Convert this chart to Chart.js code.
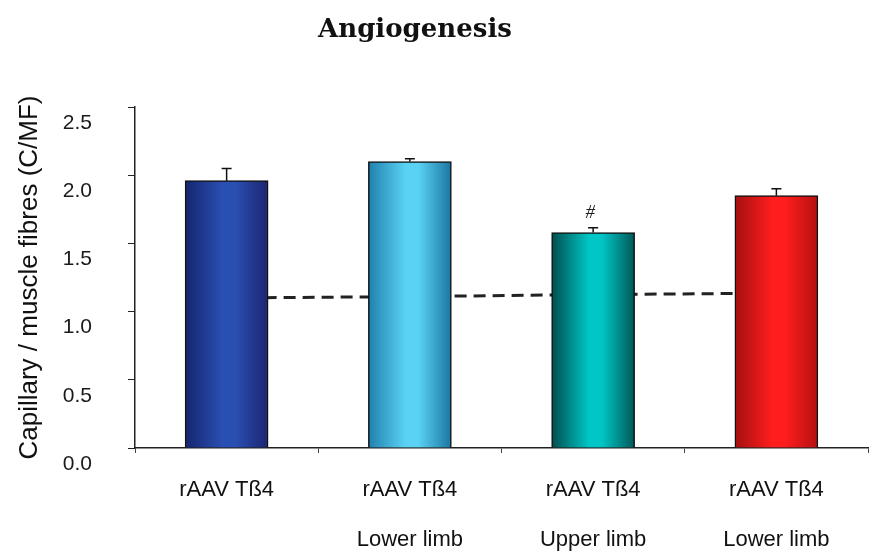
<!DOCTYPE html>
<html>
<head>
<meta charset="utf-8">
<script src="https://cdn.jsdelivr.net/npm/chart.js@4.4.0/dist/chart.umd.min.js"></script>
<style>
    body { margin: 0; background: #fff; }
    #wrap { width: 875px; height: 555px; }
</style>
</head>
<body>
<div id="wrap"><canvas id="angioChart" width="875" height="555"></canvas></div>
<script>
// data
const groupLabels = ['rAAV Tß4', 'rAAV Tß4', 'rAAV Tß4', 'rAAV Tß4'];
const limbLabels = ['', 'Lower limb', 'Upper limb', 'Lower limb'];
const capillaryRatio = [1.96, 2.10, 1.58, 1.85];
const capillaryErr = [0.09, 0.02, 0.035, 0.05];
const controlLevel = [1.10, 1.11, 1.125, 1.135];
const significance = ['', '', '#', ''];
const yTicks = [0, 0.5, 1.0, 1.5, 2.0, 2.5];

// bar shading: edge / light stripe / other edge
const barShades = [
    ['#15246e', '#2a4fb2', '#1b2470'],
    ['#1f7fae', '#5ad2f4', '#1a74a0'],
    ['#004c4c', '#00c6c6', '#005656'],
    ['#a30f0f', '#ff1d1d', '#b41010']
];

document.addEventListener('DOMContentLoaded', function() {
    const ctx = document.getElementById('angioChart').getContext('2d');

    // horizontal gradient for each bar
    function barGradient(context) {
        const chart = context.chart;
        const xs = chart.scales.x;
        const shade = barShades[context.dataIndex];
        if (!chart.chartArea || !xs) return shade[1];
        const c = xs.getPixelForValue(context.dataIndex);
        const g = chart.ctx.createLinearGradient(c - 42, 0, c + 42, 0);
        g.addColorStop(0, shade[0]);
        g.addColorStop(0.45, shade[1]);
        g.addColorStop(0.6, shade[1]);
        g.addColorStop(1, shade[2]);
        return g;
    }

    // error bars + significance mark + title
    const extras = {
        id: 'extras',
        afterDatasetsDraw(chart) {
            const c = chart.ctx;
            const ys = chart.scales.y;
            const meta = chart.getDatasetMeta(1);
            c.save();
            c.strokeStyle = '#111';
            c.lineWidth = 1.5;
            meta.data.forEach(function(bar, i) {
                const top = ys.getPixelForValue(capillaryRatio[i] + capillaryErr[i]);
                c.beginPath();
                c.moveTo(bar.x, bar.y);
                c.lineTo(bar.x, top);
                c.moveTo(bar.x - 5, top);
                c.lineTo(bar.x + 5, top);
                c.stroke();
                if (significance[i]) {
                    c.fillStyle = '#222';
                    c.font = 'italic 19px "Liberation Serif"';
                    c.textAlign = 'center';
                    c.textBaseline = 'middle';
                    c.fillText(significance[i], bar.x - 3, top - 15);
                }
            });
            c.fillStyle = '#111';
            c.font = 'bold 26px "DejaVu Serif"';
            c.textAlign = 'center';
            c.textBaseline = 'middle';
            c.fillText('Angiogenesis', 415, 30);
            c.restore();
        }
    };

    new Chart(ctx, {
        type: 'bar',
        data: {
            labels: groupLabels.map(function(g, i) { return [g, limbLabels[i]]; }),
            datasets: [{
                type: 'line',
                label: 'Control',
                data: controlLevel,
                borderColor: '#222',
                borderWidth: 3,
                borderDash: [12, 7],
                pointRadius: 0,
                fill: false,
                order: 2
            }, {
                label: 'C/MF',
                data: capillaryRatio,
                backgroundColor: barGradient,
                borderColor: '#111',
                borderWidth: 1.5,
                borderSkipped: 'bottom',
                barThickness: 83,
                order: 1
            }]
        },
        options: {
            responsive: false,
            animation: false,
            layout: {
                padding: { left: 0, right: 7, top: 107, bottom: 0 }
            },
            scales: {
                y: {
                    min: 0,
                    max: 2.5,
                    afterBuildTicks: function(scale) {
                        scale.ticks = yTicks.map(function(v) { return { value: v }; });
                    },
                    afterFit: function(scale) { scale.width = 135; },
                    border: { display: true, color: '#222', width: 1.5 },
                    grid: { drawOnChartArea: false, drawTicks: true, tickLength: 7, color: '#222' },
                    ticks: {
                        padding: 36,
                        labelOffset: 16,
                        color: '#1a1a1a',
                        font: { family: '"Liberation Sans", Arial', size: 21 },
                        callback: function(v) { return Number(v).toFixed(1); }
                    },
                    title: {
                        display: true,
                        text: 'Capillary / muscle fibres (C/MF)',
                        color: '#111',
                        font: { family: '"Liberation Sans", Arial', size: 26 },
                        padding: { top: 14, bottom: 0 }
                    }
                },
                x: {
                    afterFit: function(scale) { scale.height = 107; },
                    border: { display: true, color: '#222', width: 1.5 },
                    grid: { drawOnChartArea: false, drawTicks: true, tickLength: 5, color: '#444', offset: true },
                    ticks: {
                        padding: 12,
                        maxRotation: 0,
                        color: '#111',
                        font: { family: '"Liberation Sans", Arial', size: 22, lineHeight: 2.27 }
                    }
                }
            },
            plugins: {
                legend: { display: false },
                title: { display: false },
                tooltip: { enabled: false }
            }
        },
        plugins: [extras]
    });
});
</script>
</body>
</html>
